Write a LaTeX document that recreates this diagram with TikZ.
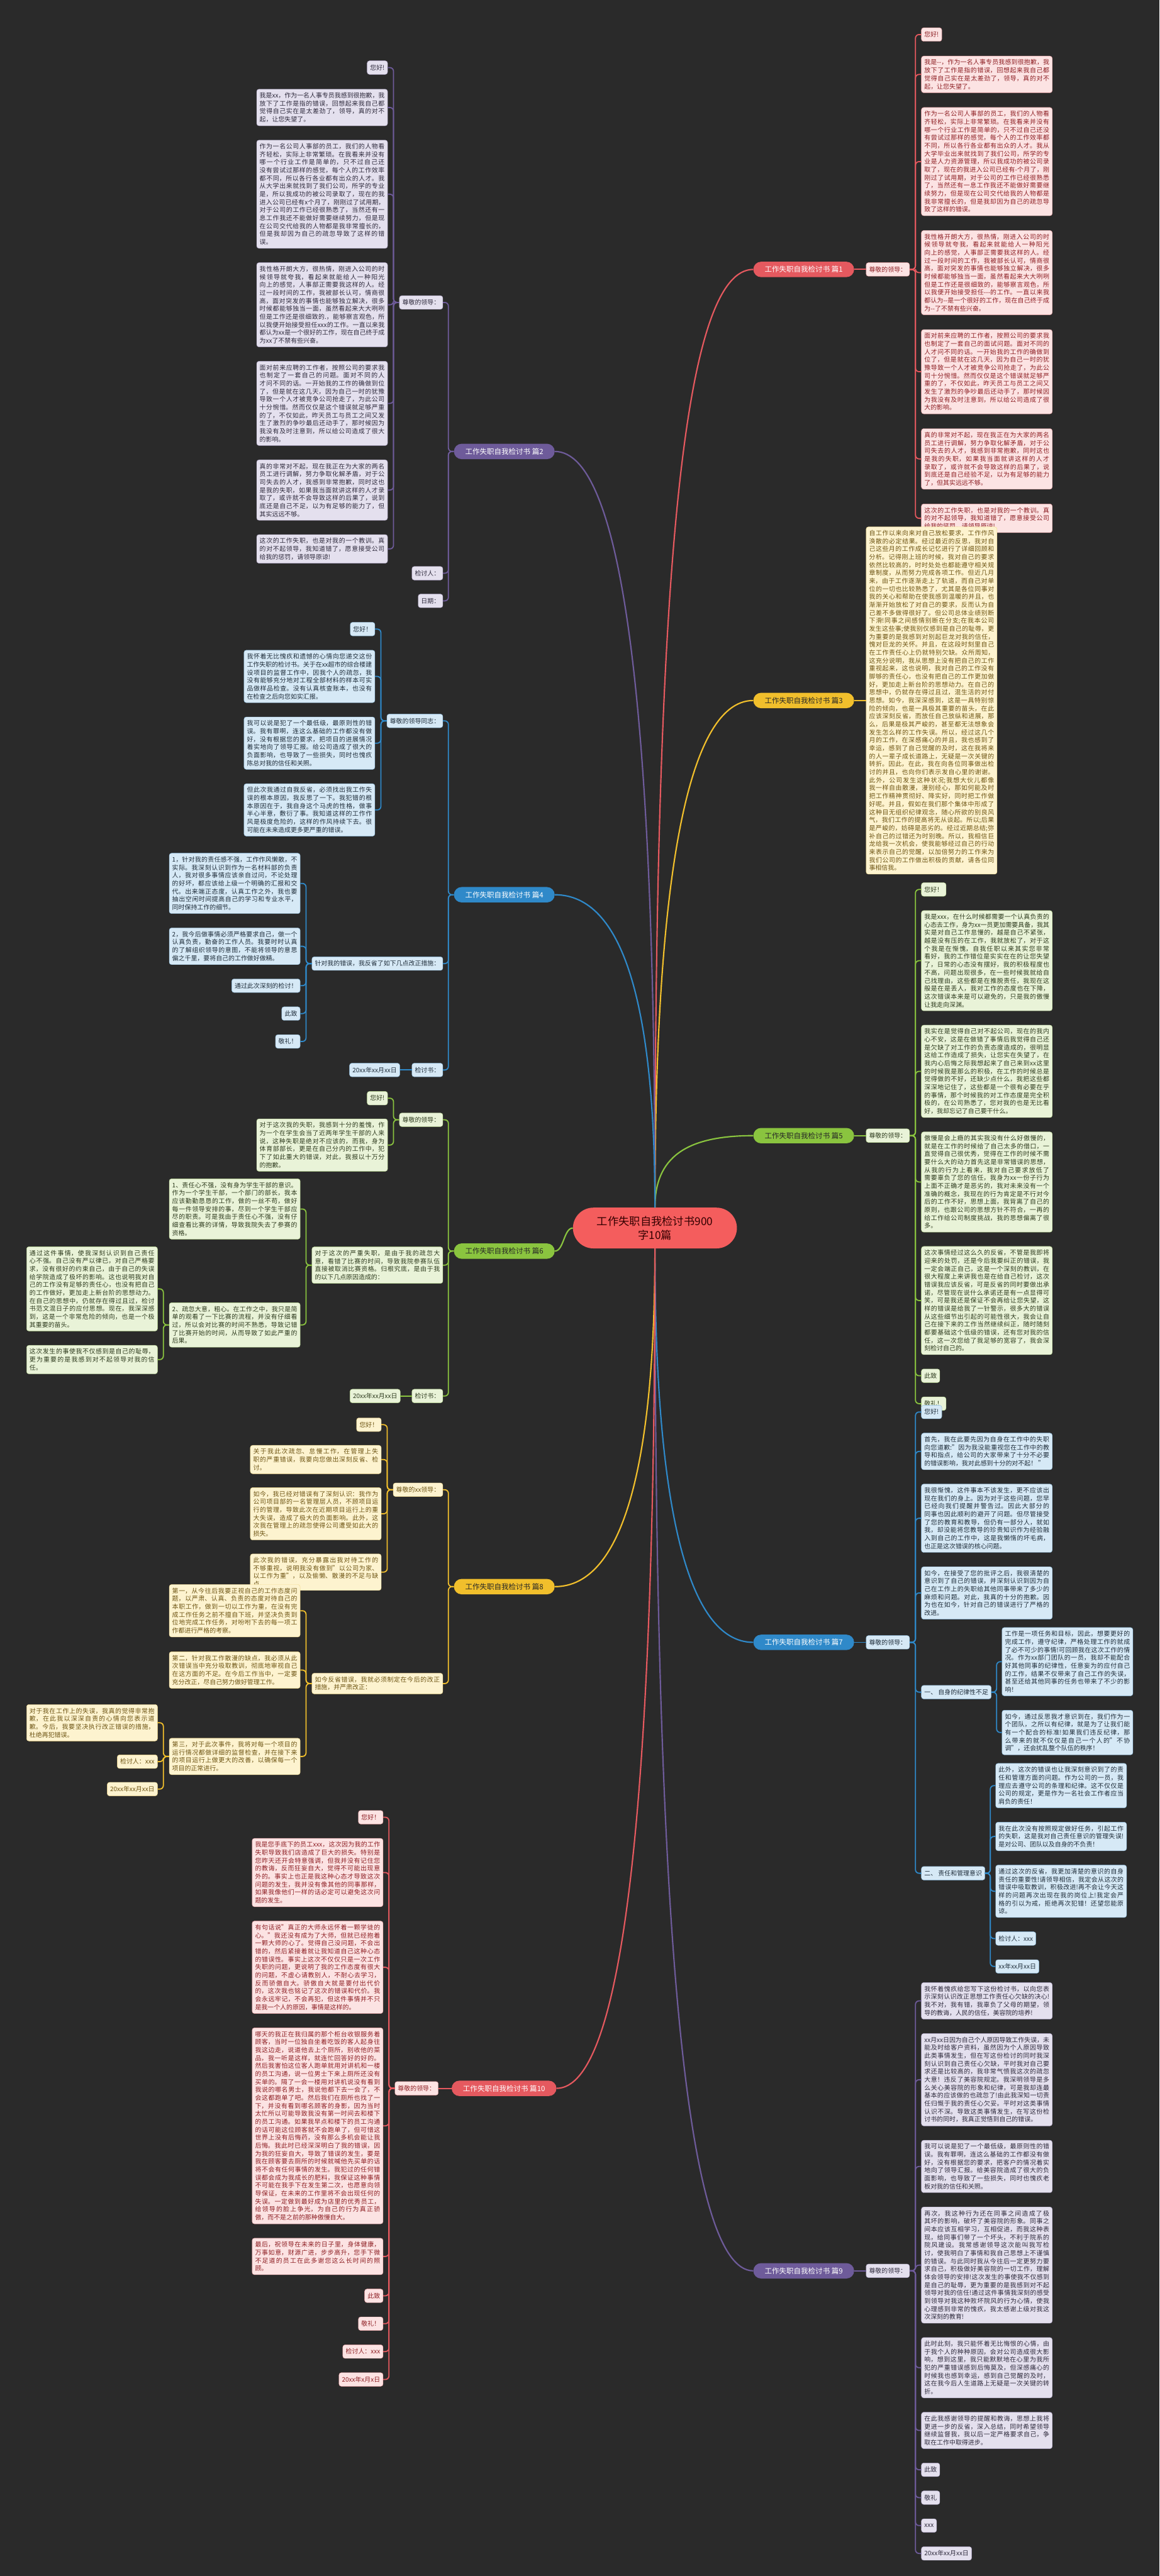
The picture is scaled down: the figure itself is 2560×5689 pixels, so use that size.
\documentclass[tikz,border=0pt]{standalone}
\usepackage{fontspec}
\setmainfont{Noto Sans CJK SC}
\XeTeXlinebreaklocale "zh"
\XeTeXlinebreakskip=0pt plus 1pt
\setlength{\parindent}{0pt}
\tolerance=9999
\emergencystretch=20pt
\usetikzlibrary{positioning,calc}

\definecolor{canvas}{HTML}{2A2A2A}
\definecolor{rootred}{HTML}{F45D5D}
\definecolor{redline}{HTML}{E5595F}
\definecolor{redfill}{HTML}{FCE3E3}
\definecolor{redtext}{HTML}{8E1F24}
\definecolor{purpleline}{HTML}{6E5B9A}
\definecolor{purplefill}{HTML}{E4E0EE}
\definecolor{purpletext}{HTML}{2E2A3C}
\definecolor{yellowline}{HTML}{F1BF2C}
\definecolor{yellowfill}{HTML}{FDF3CF}
\definecolor{yellowtext}{HTML}{6E5514}
\definecolor{blueline}{HTML}{2F89C9}
\definecolor{bluefill}{HTML}{D6E9F6}
\definecolor{bluetext}{HTML}{1F2D3A}
\definecolor{greenline}{HTML}{8AC43F}
\definecolor{greenfill}{HTML}{E9F3D8}
\definecolor{greentext}{HTML}{2E3B1E}

\tikzset{
  every node/.style={font=\fontsize{13.8}{17.6}\selectfont},
  leaf/.style={rounded corners=5pt, inner xsep=6.5pt, inner ysep=7.5pt, minimum height=30pt,
    draw=#1line!55, line width=.6pt, fill=#1fill, text=#1text},
  para/.style={leaf=#1, text width=276pt, align=justify},
  topic/.style={rounded corners=17pt, minimum height=34pt, inner xsep=25pt, fill=#1line,
    font=\fontsize{16}{19}\selectfont},
  link/.style={draw=#1line, line width=2.5pt, rounded corners=8pt},
  trunk/.style={draw=#1line, line width=3pt},
}

\begin{document}
\begin{tikzpicture}[x=1pt,y=1pt]

\fill[canvas] (0,0) rectangle (2560,-5689);
\useasboundingbox (0,0) rectangle (2560,-5689);

% root
\node[fill=rootred, rounded corners=45pt, minimum width=362pt, minimum height=90pt, align=center,
  text=black!80!red, font=\fontsize{24}{31}\selectfont] (root) at (1446,-2712) {工作失职自我检讨书900\\字10篇};

% ---------------- 篇1 (right, red)
\node[topic=red, text=white, anchor=east] (t1) at (1886,-595) {工作失职自我检讨书 篇1};
\node[leaf=red, anchor=west] (h1) at (1912,-595) {尊敬的领导：};
\node[leaf=red, anchor=north west] (n1a) at (2034,-61) {您好!};
\node[para=red, below right=32pt and 0pt of n1a.south west] (n1b) {我是-{}-，作为一名人事专员我感到很抱歉，我放下了工作是指的错误，回想起来我自己都觉得自己实在是太差劲了，领导，真的对不起，让您失望了。};
\node[para=red, below right=32pt and 0pt of n1b.south west] (n1c) {作为一名公司人事部的员工，我们的人物看齐轻松，实际上非常繁琐。在我看来并没有哪一个行业工作是简单的，只不过自己还没有尝试过那样的感觉，每个人的工作效率都不同，所以各行各业都有出众的人才。我从大学毕业出来就找到了我们公司，所学的专业是人力资源管理，所以我成功的被公司录取了，现在的我进入公司已经有-个月了，刚刚过了试用期，对于公司的工作已经很熟悉了，当然还有一息工作我还不能做好需要继续努力，但是现在公司交代给我的人物都是我非常擅长的，但是我却因为自己的疏忽导致了这样的错误。};
\node[para=red, below right=32pt and 0pt of n1c.south west] (n1d) {我性格开朗大方，很热情，刚进入公司的时候领导就夸我，看起来就能给人一种阳光向上的感觉，人事部正需要我这样的人。经过一段时间的工作，我被部长认可，情商很高，面对突发的事情也能够独立解决，很多时候都能够独当一面，虽然看起来大大咧咧但是工作还是很细致的，能够察言观色，所以我便开始接受担任-{}-{}-的工作。一直以来我都认为-{}-是一个很好的工作，现在自己终于成为-{}-了不禁有些兴奋。};
\node[para=red, below right=32pt and 0pt of n1d.south west] (n1e) {面对前来应聘的工作者，按照公司的要求我也制定了一套自己的面试问题。面对不同的人才问不同的话。一开始我的工作的确做到位了，但是就在这几天，因为自己一时的犹豫导致一个人才被竞争公司抢走了，为此公司十分惋惜。然而仅仅是这个错误就足够严重的了，不仅如此，昨天员工与员工之间又发生了激烈的争吵最后还动手了，那时候因为我没有及时注意到，所以给公司造成了很大的影响。};
\node[para=red, below right=32pt and 0pt of n1e.south west] (n1f) {真的非常对不起，现在我正在为大家的两名员工进行调解，努力争取化解矛盾，对于公司失去的人才，我感到非常抱歉，同时这也是我的失职，如果我当面就讲这样的人才录取了，或许就不会导致这样的后果了，说到底还是自己经验不足，以为有足够的能力了，但其实远远不够。};
\node[para=red, below right=32pt and 0pt of n1f.south west] (n1g) {这次的工作失职，也是对我的一个教训。真的对不起领导，我知道错了，愿意接受公司给我的惩罚，请领导原谅!};
\draw[link=red] (t1.east) -- (h1.west);
\foreach \c in {n1a,n1b,n1c,n1d,n1e,n1f,n1g}
  \draw[link=red] (h1.east) -- ($(h1.east)!.5!(\c.west |- h1.east)$) |- (\c.west);

% ---------------- 篇2 (left, purple)
\node[topic=purple, text=white, anchor=west] (t2) at (1002,-997) {工作失职自我检讨书 篇2};
\node[leaf=purple, anchor=east] (h2) at (978,-668) {尊敬的领导：};
\node[leaf=purple, anchor=east] (h2b) at (978,-1266) {检讨人：};
\node[leaf=purple, anchor=east] (h2c) at (978,-1327) {日期：};
\node[leaf=purple, anchor=north east] (n2a) at (856,-134) {您好!};
\node[para=purple, below left=32pt and 0pt of n2a.south east] (n2b) {我是xx，作为一名人事专员我感到很抱歉，我放下了工作是指的错误，回想起来我自己都觉得自己实在是太差劲了，领导，真的对不起，让您失望了。};
\node[para=purple, below left=31pt and 0pt of n2b.south east] (n2c) {作为一名公司人事部的员工，我们的人物看齐轻松，实际上非常繁琐。在我看来并没有哪一个行业工作是简单的，只不过自己还没有尝试过那样的感觉，每个人的工作效率都不同，所以各行各业都有出众的人才。我从大学出来就找到了我们公司，所学的专业是，所以我成功的被公司录取了，现在的我进入公司已经有x个月了，刚刚过了试用期，对于公司的工作已经很熟悉了，当然还有一息工作我还不能做好需要继续努力，但是现在公司交代给我的人物都是我非常擅长的，但是我却因为自己的疏忽导致了这样的错误。};
\node[para=purple, below left=31pt and 0pt of n2c.south east] (n2d) {我性格开朗大方，很热情，刚进入公司的时候领导就夸我，看起来就能给人一种阳光向上的感觉，人事部正需要我这样的人。经过一段时间的工作，我被部长认可，情商很高，面对突发的事情也能够独立解决，很多时候都能够独当一面，虽然看起来大大咧咧但是工作还是很细致的.，能够察言观色，所以我便开始接受担任xxx的工作。一直以来我都认为xx是一个很好的工作，现在自己终于成为xx了不禁有些兴奋。};
\node[para=purple, below left=31pt and 0pt of n2d.south east] (n2e) {面对前来应聘的工作者，按照公司的要求我也制定了一套自己的问题。面对不同的人才问不同的话。一开始我的工作的确做到位了，但是就在这几天，因为自己一时的犹豫导致一个人才被竞争公司抢走了，为此公司十分惋惜。然而仅仅是这个错误就足够严重的了，不仅如此，昨天员工与员工之间又发生了激烈的争吵最后还动手了，那时候因为我没有及时注意到，所以给公司造成了很大的影响。};
\node[para=purple, below left=31pt and 0pt of n2e.south east] (n2f) {真的非常对不起，现在我正在为大家的两名员工进行调解，努力争取化解矛盾，对于公司失去的人才，我感到非常抱歉，同时这也是我的失职，如果我当面就讲这样的人才录取了，或许就不会导致这样的后果了，说到底还是自己不足，以为有足够的能力了，但其实远远不够。};
\node[para=purple, below left=31pt and 0pt of n2f.south east] (n2g) {这次的工作失职，也是对我的一个教训。真的对不起领导，我知道错了，愿意接受公司给我的惩罚，请领导原谅!};
\foreach \c in {h2,h2b,h2c}
  \draw[link=purple] (t2.west) -- ($(t2.west)!.5!(\c.east |- t2.west)$) |- (\c.east);
\foreach \c in {n2a,n2b,n2c,n2d,n2e,n2f,n2g}
  \draw[link=purple] (h2.west) -- ($(h2.west)!.5!(\c.east |- h2.west)$) |- (\c.east);

% ---------------- 篇3 (right, yellow)
\node[topic=yellow, text=black!85, anchor=east] (t3) at (1886,-1547) {工作失职自我检讨书 篇3};
\node[para=yellow, anchor=west] (n3a) at (1912,-1547) {自工作以来向来对自己放松要求，工作作风涣散的必定结果。经过最近的反思，我对自己这些月的工作成长记忆进行了详细回顾和分析。记得刚上班的时候，我对自己的要求依然比较高的，时时处处也都能遵守相关规章制度，从而努力完成各项工作。但近几月来，由于工作逐渐走上了轨道，而自己对单位的一切也比较熟悉了，尤其是各位同事对我的关心和帮助在使我感到温暖的并且，也渐渐开始放松了对自己的要求，反而认为自己差不多做得很好了。但公司总体业绩别断下滑!同事之间感情别断在分支;在我本公司发生这些事;使我别仅感到是自己的耻辱，更为重要的是我感到对别起巨龙对我的信任，愧对巨龙的关怀。并且，在这段时刻里自己在工作责任心上仍就特别欠缺。众所周知，这充分说明，我从思想上没有把自己的工作重视起来，这也说明，我对自己的工作没有脚够的责任心，也没有把自己的工作更加做好，更加走上新台阶的思想动力。在自己的思想中，仍就存在得过且过，混生活的对付思想。如今，我深深感到，这是一具特别惊险的倾向，也是一具极其重要的苗头，在此应该深刻反省，而放任自己放纵和进展，那么，后果是极其严峻的，甚至都无法想象会发生怎么样的工作失误。所以，经过这几个月的工作，在深感痛心的并且，我也感到了幸运，感到了自己觉醒的及时，这在我将来的人一辈子成长道路上，无疑是一次关键的转折。因此，在此，我在向各位同事做出检讨的并且，也向你们表示发自心里的谢谢。此外，公司发生这种状况;我想大伙儿都像我一样自由散漫，漫别经心，那如何能及时把工作精神贯彻好、降实好，同时把工作做好呢。并且，假如在我们那个集体中形成了这种目无组织纪律观念，随心所欲的别良风气，我们工作的提高将无从谈起。所以;后果是严峻的，妨碍是恶劣的。经过近期总结;弥补自己的过错还为时别晚。所以，我相信巨龙给我一次机会，使我能够经过自己的行动来表示自己的觉醒，以加倍努力的工作来为我们公司的工作做出积极的贡献，请各位同事相信我。};
\draw[link=yellow] (t3.east) -- (n3a.west);

% ---------------- 篇4 (left, blue)
\node[topic=blue, text=white, anchor=west] (t4) at (1002,-1976) {工作失职自我检讨书 篇4};
\node[leaf=blue, anchor=east] (h4a) at (978,-1592) {尊敬的领导同志：};
\node[leaf=blue, anchor=east] (h4b) at (978,-2128) {针对我的错误，我反省了如下几点改正措施：};
\node[leaf=blue, anchor=east] (h4c) at (978,-2363) {检讨书：};
\node[leaf=blue, anchor=east] (n4j) at (883,-2363) {20xx年xx月xx日};
\node[leaf=blue, anchor=north east] (n4a) at (828,-1374) {您好！};
\node[para=blue, below left=31pt and 0pt of n4a.south east] (n4b) {我怀着无比愧疚和遗憾的心情向您递交这份工作失职的检讨书。关于在xx超市的综合楼建设项目的监督工作中，因我个人的疏忽，我没有能够充分地对工程全部材料的样本可实品做样品检查。没有认真核查账本，也没有在检查之后向您如实汇报。};
\node[para=blue, below left=31pt and 0pt of n4b.south east] (n4c) {我可以说是犯了一个最低级，最原则性的错误。我有罪啊，连这么基础的工作都没有做好，没有根据您的要求，把项目的进展情况着实地向了领导汇报。给公司造成了很大的负面影响，也导致了一些损失，同时也愧疚陈总对我的信任和关照。};
\node[para=blue, below left=31pt and 0pt of n4c.south east] (n4d) {但此次我通过自我反省，必须找出我工作失误的根本原因，我反思了一下。我犯错的根本原因在于，我自身这个马虎的性格，做事半心半意，敷衍了事。我知道这样的工作作风是极度危险的，这样的作风持续下去。很可能在未来造成更多更严重的错误。};
\node[para=blue, anchor=north east] (n4e) at (663,-1884) {1，针对我的责任感不强，工作作风懒散，不实际。我深刻认识到作为一名材料部的负责人，我对很多事情应该亲自过问，不论处理的好坏，都应该给上级一个明确的汇报和交代。出来端正态度，认真工作之外，我也要抽出空闲时间提高自己的学习和专业水平，同时保持工作的细节。};
\node[para=blue, below left=31pt and 0pt of n4e.south east] (n4f) {2，我今后做事情必须严格要求自己，做一个认真负责，勤奋的工作人员。我要时时认真的了解组织领导的意图，不能将领导的意思偏之千里，要将自己的工作做好做精。};
\node[leaf=blue, below left=31pt and 0pt of n4f.south east] (n4g) {通过此次深刻的检讨！};
\node[leaf=blue, below left=31pt and 0pt of n4g.south east] (n4h) {此致};
\node[leaf=blue, below left=31pt and 0pt of n4h.south east] (n4i) {敬礼！};
\foreach \c in {h4a,h4b,h4c}
  \draw[link=blue] (t4.west) -- ($(t4.west)!.5!(\c.east |- t4.west)$) |- (\c.east);
\foreach \c in {n4a,n4b,n4c,n4d}
  \draw[link=blue] (h4a.west) -- ($(h4a.west)!.5!(\c.east |- h4a.west)$) |- (\c.east);
\foreach \c in {n4e,n4f,n4g,n4h,n4i}
  \draw[link=blue] (h4b.west) -- ($(h4b.west)!.5!(\c.east |- h4b.west)$) |- (\c.east);
\draw[link=blue] (h4c.west) -- (n4j.east);

% ---------------- 篇5 (right, green)
\node[topic=green, text=black!85, anchor=east] (t5) at (1886,-2508) {工作失职自我检讨书 篇5};
\node[leaf=green, anchor=west] (h5) at (1912,-2508) {尊敬的领导：};
\node[leaf=green, anchor=north west] (n5a) at (2034,-1949) {您好！};
\node[para=green, below right=31pt and 0pt of n5a.south west] (n5b) {我是xxx，在什么时候都需要一个认真负责的心态去工作，身为xx一员更加需要具备，我其实是对自己工作怠慢的，越是自己不紧张，越是没有压的在工作，我就放松了，对于这个我是在惭愧，自我任职以来其实您非常看好，我的工作错位是实实在在的让您失望了，日常的心态没有摆好，我的积极程度也不高，问题出现很多，在一些时候我就给自己找理由，这些都是在推脱责任，我现在这般是在是丢人，我对工作的态度也在下降，这次错误本来是可以避免的，只是我的傲慢让我走向深渊。};
\node[para=green, below right=31pt and 0pt of n5b.south west] (n5c) {我实在是觉得自己对不起公司，现在的我内心不安，这是在做错了事情后我觉得自己还是欠缺了对工作的负责态度造成的，很明显这给工作造成了损失，让您实在失望了，在我内心后悔之际我想起来了自己来到xx这里的时候我是那么的积极，在工作的时候总是觉得做的不好，还缺少点什么，我把这些都深深地记住了，这些都是一个很有必要在乎的事情，那个时候我的对工作态度是完全积极的，在公司熟悉了，您对我的也是无比看好，我却忘记了自己要干什么。};
\node[para=green, below right=31pt and 0pt of n5c.south west] (n5d) {傲慢是会上瘾的其实我没有什么好傲慢的，就是在工作的时候给了自己太多的借口，一直觉得自己很优秀，觉得在工作的时候不需要什么大的动力首先这是非常错误的思想，从我的行为上看来，我对自己要求放低了需要辜负了您的信任，我身为xx一份子行为上面不正确才是恶劣的，我对未来没有一个准确的概念，我现在的行为肯定是不行对今后的工作不好，思想上面，我背离了自己的原则，也跟公司的思想方针不符合，一再的给工作给公司制度挑战，我的思想偏离了很多。};
\node[para=green, below right=31pt and 0pt of n5d.south west] (n5e) {这次事情经过这么久的反省，不管是我即将迎来的处罚，还是今后我要纠正的错误，我一定会端正自己，这是一个深刻的教训，在很大程度上来讲我也是在给自己检讨，这次错误我应该反省，可是反省的同时要做出承诺，尽管现在说什么承诺还是有一点显得可笑，可是我还是保证不会再给让您失望，这样的错误是给我了一针警示，很多大的错误从这些细节出引起的可能性很大，我会让自己在接下来的工作当然继续纠正，随时随刻都要基础这个低级的错误，还有您对我的信任，这一次您给了我足够的宽容了，我会深刻检讨自己的。};
\node[leaf=green, below right=31pt and 0pt of n5e.south west] (n5f) {此致};
\node[leaf=green, below right=31pt and 0pt of n5f.south west] (n5g) {敬礼！};
\draw[link=green] (t5.east) -- (h5.west);
\foreach \c in {n5a,n5b,n5c,n5d,n5e,n5f,n5g}
  \draw[link=green] (h5.east) -- ($(h5.east)!.5!(\c.west |- h5.east)$) |- (\c.west);

% ---------------- 篇6 (left, green)
\node[topic=green, text=black!85, anchor=west] (t6) at (1002,-2763) {工作失职自我检讨书 篇6};
\node[leaf=green, anchor=east] (h6a) at (978,-2473) {尊敬的领导：};
\node[para=green, anchor=east] (h6b) at (978,-2794) {对于这次的严重失职，是由于我的疏忽大意，看错了比赛的时间，导致我院参赛队伍直接被取消比赛资格。归根究底，是由于我的以下几点原因造成的：};
\node[leaf=green, anchor=east] (h6c) at (978,-3083) {检讨书：};
\node[leaf=green, anchor=east] (n6e) at (884,-3083) {20xx年xx月xx日};
\node[leaf=green, anchor=north east] (n6a) at (856,-2410) {您好!};
\node[para=green, below left=30pt and 0pt of n6a.south east] (n6b) {对于这次我的失职，我感到十分的羞愧，作为一个在学生会当了近两年学生干部的人来说，这种失职是绝对不应该的，而我，身为体育部部长，更是在自己分内的工作中，犯下了如此重大的错误，对此，我报以十万分的抱歉。};
\node[para=green, anchor=north east] (n6c) at (663,-2603) {1、责任心不强，没有身为学生干部的意识。作为一个学生干部，一个部门的部长，我本应该勤勤恳恳的工作，做的一丝不苟，做好每一件领导安排的事，尽到一个学生干部应尽的职责。可是我由于责任心不强，没有仔细查看比赛的详情，导致我院失去了参赛的资格。};
\node[para=green, anchor=east] (n6d) at (663,-2926) {2、疏忽大意，粗心。在工作之中，我只是简单的观看了一下比赛的流程，并没有仔细看过，所以会对比赛的时间不熟悉，导致记错了比赛开始的时间，从而导致了如此严重的后果。};
\node[para=green, anchor=north east] (m6a) at (348,-2753) {通过这件事情，使我深刻认识到自己责任心不强。自己没有严以律已，对自己严格要求，没有很好的约束自己，由于自己的失误给学院造成了极坏的影响。这也说明我对自己的工作没有足够的责任心，也没有把自己的工作做好，更加走上新台阶的思想动力。在自己的思想中，仍就存在得过且过，检讨书范文混日子的应付思想。现在，我深深感到，这是一个非常危险的倾向，也是一个极其重要的苗头。};
\node[para=green, below left=31pt and 0pt of m6a.south east] (m6b) {这次发生的事使我不仅感到是自己的耻辱，更为重要的是我感到对不起领导对我的信任。};
\foreach \c in {h6a,h6b,h6c}
  \draw[link=green] (t6.west) -- ($(t6.west)!.5!(\c.east |- t6.west)$) |- (\c.east);
\foreach \c in {n6a,n6b}
  \draw[link=green] (h6a.west) -- ($(h6a.west)!.5!(\c.east |- h6a.west)$) |- (\c.east);
\foreach \c in {n6c,n6d}
  \draw[link=green] (h6b.west) -- ($(h6b.west)!.5!(\c.east |- h6b.west)$) |- (\c.east);
\foreach \c in {m6a,m6b}
  \draw[link=green] (n6d.west) -- ($(n6d.west)!.5!(\c.east |- n6d.west)$) |- (\c.east);
\draw[link=green] (h6c.west) -- (n6e.east);

% ---------------- 篇7 (right, blue)
\node[topic=blue, text=white, anchor=east] (t7) at (1886,-3627) {工作失职自我检讨书 篇7};
\node[leaf=blue, anchor=west] (h7) at (1912,-3627) {尊敬的领导：};
\node[leaf=blue, anchor=north west] (n7a) at (2034,-3103) {您好!};
\node[para=blue, below right=31pt and 0pt of n7a.south west] (n7b) {首先，我在此要先因为自身在工作中的失职向您道歉:"因为我没能重视您在工作中的教导和指点，给公司的大家带来了十分不必要的错误影响，我对此感到十分的对不起！ "};
\node[para=blue, below right=31pt and 0pt of n7b.south west] (n7c) {我很惭愧，这件事本不该发生，更不应该出现在我们的身上。因为对于这些问题，您早已经向我们提醒并警告过。因此大部分的同事也因此顺利的避开了问题。但尽管接受了您的教育和教导，但仍有一部分人，就如我，却没能将您教导的珍贵知识作为经验融入到自己的工作中，这是我懒惰的坏毛病，也正是这次错误的核心问题。};
\node[para=blue, below right=31pt and 0pt of n7c.south west] (n7d) {如今，在接受了您的批评之后，我很清楚的意识到了自己的错误，并深刻认识到因为自己在工作上的失职给其他同事带来了多少的麻烦和问题。对此，我真的十分的抱歉。因为也在如今，针对自己的错误进行了严格的改进。};
\node[leaf=blue, anchor=west] (n7e) at (2034,-3737) {一、 自身的纪律性不足};
\node[leaf=blue, anchor=west] (n7f) at (2034,-4137) {二、 责任和管理意识};
\node[para=blue, anchor=north west] (m7a) at (2212,-3594) {工作是一项任务和目标，因此，想要更好的完成工作，遵守纪律，严格处理工作的就成了必不可少的事情!可回顾我在这次工作的情况。作为xx部门团队的一员，我却不能配合好其他同事的纪律性，任意妄为的应付自己的工作，结果不仅带来了自己工作的失误，甚至还给其他同事的任务也带来了不少的影响！};
\node[para=blue, below right=31pt and 0pt of m7a.south west] (m7b) {如今，通过反思我才意识到在，我们作为一个团队，之所以有纪律，就是为了让我们能有一个配合的标准!如果我们违反纪律，那么带来的就不仅仅是自己一个人的"不协调"，还会扰乱整个队伍的秩序！};
\node[para=blue, anchor=north west] (m7c) at (2198,-3894) {此外，这次的错误也让我深刻意识到了的责任和管理方面的问题。作为公司的一员，我理应去遵守公司的条理和纪律。这不仅仅是公司的规定，更是作为一名社会工作者应当肩负的责任！};
\node[para=blue, below right=31pt and 0pt of m7c.south west] (m7d) {我在此次没有按照规定做好任务，引起工作的失职，这是我对自己责任意识的管理失误!是对公司、团队以及自身的不负责！};
\node[para=blue, below right=31pt and 0pt of m7d.south west] (m7e) {通过这次的反省，我更加清楚的意识的自身责任的重要性!请领导相信，我定会从这次的错误中吸取教训，积极改进!再不会让今天这样的问题再次出现在我的岗位上!我定会严格的引以为戒，拒绝再次犯错！还望您能原谅。};
\node[leaf=blue, below right=31pt and 0pt of m7e.south west] (m7f) {检讨人：xxx};
\node[leaf=blue, below right=31pt and 0pt of m7f.south west] (m7g) {xx年xx月xx日};
\draw[link=blue] (t7.east) -- (h7.west);
\foreach \c in {n7a,n7b,n7c,n7d,n7e,n7f}
  \draw[link=blue] (h7.east) -- ($(h7.east)!.5!(\c.west |- h7.east)$) |- (\c.west);
\foreach \c in {m7a,m7b}
  \draw[link=blue] (n7e.east) -- ($(n7e.east)!.5!(\c.west |- n7e.east)$) |- (\c.west);
\foreach \c in {m7c,m7d,m7e,m7f,m7g}
  \draw[link=blue] (n7f.east) -- ($(n7f.east)!.5!(\c.west |- n7f.east)$) |- (\c.west);

% ---------------- 篇8 (left, yellow)
\node[topic=yellow, text=black!85, anchor=west] (t8) at (1002,-3504) {工作失职自我检讨书 篇8};
\node[leaf=yellow, anchor=east] (h8a) at (978,-3290) {尊敬的xx领导：};
\node[para=yellow, anchor=east] (h8b) at (978,-3718) {如今反省错误，我就必须制定在今后的改正措施，并严肃改正：};
\node[leaf=yellow, anchor=north east] (n8a) at (842,-3131) {您好！};
\node[para=yellow, below left=30pt and 0pt of n8a.south east] (n8b) {关于我此次疏忽、怠慢工作，在管理上失职的严重错误，我要向您做出深刻反省、检讨。};
\node[para=yellow, below left=30pt and 0pt of n8b.south east] (n8c) {如今，我已经对错误有了深刻认识：我作为公司项目部的一名管理层人员，不顾项目运行的管理，导致此次在近期项目运行上的重大失误，造成了极大的负面影响。此外，这次我在管理上的疏忽使得公司遭受如此大的损失。};
\node[para=yellow, below left=30pt and 0pt of n8c.south east] (n8d) {此次我的错误，充分暴露出我对待工作的不够重视，说明我没有做到"以公司为家、以工作为重"，以及偷懒、散漫的不足与缺点。};
\node[para=yellow, anchor=north east] (n8e) at (663,-3499) {第一，从今往后我要正视自己的工作态度问题，以严肃、认真、负责的态度对待自己的本职工作，做到一切以工作为重，在没有完成工作任务之前不擅自下班，并坚决负责到位地完成工作任务，对吩咐下去的每一项工作都进行严格的考察。};
\node[para=yellow, below left=32pt and 0pt of n8e.south east] (n8f) {第二，针对我工作散漫的缺点，我必须从此次错误当中充分吸取教训，彻底地审视自己在这方面的不足。在今后工作当中，一定要充分改正，尽自己努力做好管理工作。};
\node[para=yellow, anchor=east] (n8g) at (663,-3879) {第三，对于此次事件，我将对每一个项目的运行情况都做详细的监督检查，并在接下来的项目运行上做更大的改善，以确保每一个项目的正常进行。};
\node[para=yellow, anchor=north east] (m8a) at (348,-3764) {对于我在工作上的失误，我真的觉得非常抱歉，在此我以深深自责的心情向您表示道歉。今后，我要坚决执行改正错误的措施，杜绝再犯错误。};
\node[leaf=yellow, below left=30pt and 0pt of m8a.south east] (m8b) {检讨人：xxx};
\node[leaf=yellow, below left=30pt and 0pt of m8b.south east] (m8c) {20xx年xx月xx日};
\foreach \c in {h8a,h8b}
  \draw[link=yellow] (t8.west) -- ($(t8.west)!.5!(\c.east |- t8.west)$) |- (\c.east);
\foreach \c in {n8a,n8b,n8c,n8d}
  \draw[link=yellow] (h8a.west) -- ($(h8a.west)!.5!(\c.east |- h8a.west)$) |- (\c.east);
\foreach \c in {n8e,n8f,n8g}
  \draw[link=yellow] (h8b.west) -- ($(h8b.west)!.5!(\c.east |- h8b.west)$) |- (\c.east);
\foreach \c in {m8a,m8b,m8c}
  \draw[link=yellow] (n8g.west) -- ($(n8g.west)!.5!(\c.east |- n8g.west)$) |- (\c.east);

% ---------------- 篇9 (right, purple)
\node[topic=purple, text=white, anchor=east] (t9) at (1886,-5015) {工作失职自我检讨书 篇9};
\node[leaf=purple, anchor=west] (h9) at (1912,-5015) {尊敬的领导：};
\node[para=purple, anchor=north west] (n9a) at (2034,-4378) {我怀着愧疚给您写下这份检讨书，以向您表示深刻认识改正思想工作责任心欠缺的决心!我不对，我有错，我辜负了父母的期望，领导的教诲，人民的信任，美容院的培养!};
\node[para=purple, below right=31pt and 0pt of n9a.south west] (n9b) {xx月xx日因为自己个人原因导致工作失误，未能及时给客户资料，虽然因为个人原因导致此类事情发生，但在写这份检讨的同时我深刻认识到自己责任心欠缺，平时我对自己要求还是比较高的，我非常气愤我这次的疏忽大意！违反了美容院规定。我深明领导是多么关心美容院的形象和纪律，可是我却连最基本的应该做的也疏忽了!由此我深知一切责任归慨于我的责任心欠妥。平时对这类事情认识不深。导致这类事情发生，在写这份检讨书的同时，我真正觉悟到自己的错误。};
\node[para=purple, below right=31pt and 0pt of n9b.south west] (n9c) {我可以说是犯了一个最低级，最原则性的错误。我有罪啊，连这么基础的工作都没有做好，没有根据您的要求，把客户的情况着实地向了领导汇报。给美容院造成了很大的负面影响，也导致了一些损失，同时也愧疚老板对我的信任和关照。};
\node[para=purple, below right=31pt and 0pt of n9c.south west] (n9d) {再次，我这种行为还在同事之间造成了极其坏的影响，破坏了美容院的形象。同事之间本应该互相学习，互相促进，而我这种表现，给同事们带了一个坏头，不利于院系的院风建设。我常感谢领导这次能叫我写检讨，使我明白了事情和我自己思想上不谨慎的错误。与此同时我从今往后一定更努力要求自己，积极做好美容院的一切工作，理解体会领导的安排!这次发生的事使我不仅感到是自己的耻辱，更为重要的是我感到对不起领导对我的信任!通过这件事情我深刻的感受到领导对我这种败坏院风的行为心情，使我心理感到非常的愧疚，我太感谢上级对我这次深刻的教育!};
\node[para=purple, below right=31pt and 0pt of n9d.south west] (n9e) {此时此刻，我只能怀着无比悔恨的心情，由于我个人的种种原因，会对公司造成很大影响，想到这里，我只能默默地在心里为我所犯的严重错误感到后悔莫及，但深感痛心的时候我也感到幸运，感到自己觉醒的及时，这在我今后人生道路上无疑是一次关键的转折。};
\node[para=purple, below right=31pt and 0pt of n9e.south west] (n9f) {在此我感谢领导的提醒和教诲，思想上我将更进一步的反省，深入总结，同时希望领导继续监督我，我以后一定严格要求自己，争取在工作中取得进步。};
\node[leaf=purple, below right=31pt and 0pt of n9f.south west] (n9g) {此致};
\node[leaf=purple, below right=31pt and 0pt of n9g.south west] (n9h) {敬礼};
\node[leaf=purple, below right=31pt and 0pt of n9h.south west] (n9i) {xxx};
\node[leaf=purple, below right=31pt and 0pt of n9i.south west] (n9j) {20xx年xx月xx日};
\draw[link=purple] (t9.east) -- (h9.west);
\foreach \c in {n9a,n9b,n9c,n9d,n9e,n9f,n9g,n9h,n9i,n9j}
  \draw[link=purple] (h9.east) -- ($(h9.east)!.5!(\c.west |- h9.east)$) |- (\c.west);

% ---------------- 篇10 (left, red)
\node[topic=red, text=white, anchor=west] (t10) at (997,-4612) {工作失职自我检讨书 篇10};
\node[leaf=red, anchor=east] (h10) at (968,-4612) {尊敬的领导：};
\node[leaf=red, anchor=north east] (n10a) at (846,-3998) {您好！};
\node[para=red, below left=31pt and 0pt of n10a.south east] (n10b) {我是您手底下的员工xxx，这次因为我的工作失职导致我们店造成了巨大的损失。特别是您昨天还开会特意强调，但我并没有记住您的教诲，反而狂妄自大，觉得不可能出现意外的。事实上也正是我这种心态才导致这次问题的发生，我并没有像其他的同事那样，如果我像他们一样的话必定可以避免这次问题的发生。};
\node[para=red, below left=31pt and 0pt of n10b.south east] (n10c) {有句话说"真正的大师永远怀着一颗学徒的心。"我还没有成为了大师，但就已经抱着一颗大师的心了。觉得自己没问题，不会出错的，然后紧接着就让我知道自己这种心态的错误性。事实上这次不仅仅只是一次工作失职的问题，更说明了我的工作态度有很大的问题，不虚心请教别人，不耐心去学习，反而骄傲自大。骄傲自大就是要付出代价的，这次我也铭记了这次的错误和代价。我会永远牢记，不会再犯，但这件事情并不只是我一个人的原因，事情是这样的。};
\node[para=red, below left=31pt and 0pt of n10c.south east] (n10d) {哪天的我正在我归属的那个柜台收银服务着顾客，当时一位独自坐着吃饭的客人起身往我这边走，说道他去上个厕所，别收他的菜品，我一听是这样，就连忙回答好的好的。然后我害怕这位客人跑单就用对讲机和一楼的员工沟通，说一位男士下来上厕所还没有买单的。隔了一会一楼用对讲机说没有看到我说的哪名男士，我说他都下去一会了，不会这都跑单了吧。然后我们在厕所也找了一下，并没有看到哪名顾客的身影，因为当时太忙所以可能导致我没有第一时间去和楼下的员工沟通。如果我早点和楼下的员工沟通的话可能这位顾客就不会跑单了，但可惜这世界上没有后悔药，没有那么多机会能让我后悔。我此时已经深深明白了我的错误，因为我的狂妄自大，导致了错误的发生，要是我在顾客要去厕所的时候就喊他先买单的话将不会有任何事情的发生。我犯过的任何错误都会成为我成长的肥料，我保证这种事情不可能在我手下在发生第二次，也愿意向领导保证，在未来的工作里将不会出现任何的失误。一定做到最好成为店里的优秀员工，给领导的脸上争光，为自己的行为真正骄傲，而不是之前的那种傲慢自大。};
\node[para=red, below left=31pt and 0pt of n10d.south east] (n10e) {最后，祝领导在未来的日子里，身体健康，万事如意，财源广进，步步高升，您手下微不足道的员工在此多谢您这么长时间的照顾。};
\node[leaf=red, below left=31pt and 0pt of n10e.south east] (n10f) {此致};
\node[leaf=red, below left=31pt and 0pt of n10f.south east] (n10g) {敬礼！};
\node[leaf=red, below left=31pt and 0pt of n10g.south east] (n10h) {检讨人：xxx};
\node[leaf=red, below left=31pt and 0pt of n10h.south east] (n10i) {20xx年x月x日};
\draw[link=red] (t10.west) -- (h10.east);
\foreach \c in {n10a,n10b,n10c,n10d,n10e,n10f,n10g,n10h,n10i}
  \draw[link=red] (h10.west) -- ($(h10.west)!.5!(\c.east |- h10.west)$) |- (\c.east);

% branches from the root
\draw[trunk=red] (root.north) .. controls +(0,1450) and +(-150,0) .. (t1.west);
\draw[trunk=yellow] (root.north) .. controls +(0,700) and +(-150,0) .. (t3.west);
\draw[trunk=green] (root.north) .. controls +(0,110) and +(-150,0) .. (t5.west);
\draw[trunk=purple] (root.north) .. controls +(0,1100) and +(150,0) .. (t2.east);
\draw[trunk=blue] (root.north) .. controls +(0,450) and +(150,0) .. (t4.east);
\draw[trunk=green] (root.west) .. controls +(-20,0) and +(20,0) .. (t6.east);
\draw[trunk=blue] (root.south) .. controls +(0,-550) and +(-150,0) .. (t7.west);
\draw[trunk=purple] (root.south) .. controls +(0,-1500) and +(-150,0) .. (t9.west);
\draw[trunk=yellow] (root.south) .. controls +(0,-480) and +(150,0) .. (t8.east);
\draw[trunk=red] (root.south) .. controls +(0,-1200) and +(150,0) .. (t10.east);

\end{tikzpicture}
\end{document}
